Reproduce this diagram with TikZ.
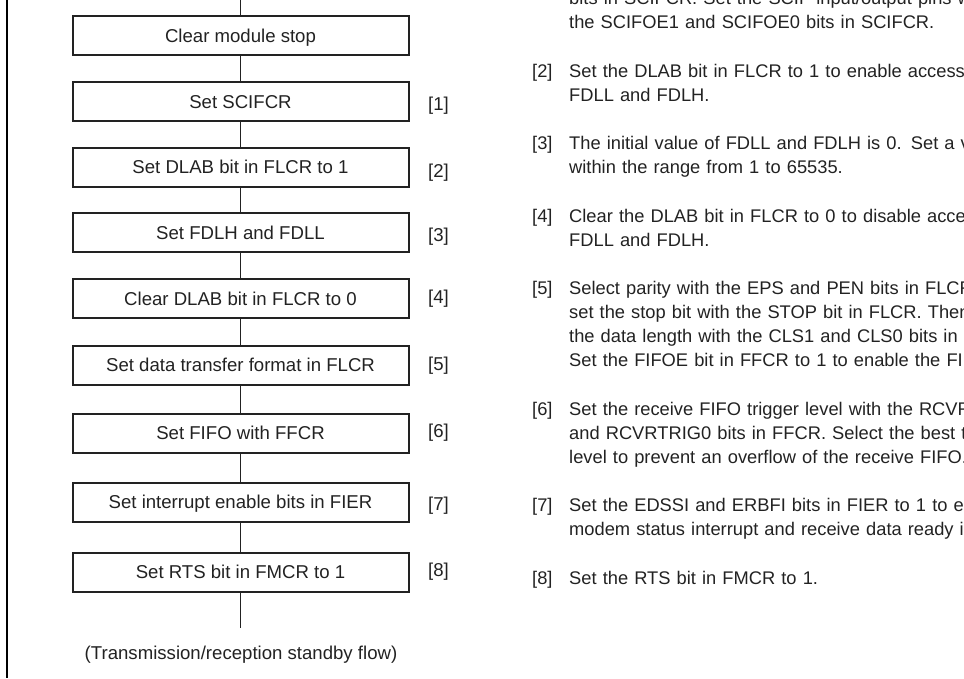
\documentclass[tikz,border=0pt]{standalone}
\usepackage{fontspec}
\setmainfont{Liberation Sans}
\definecolor{ink}{HTML}{222222}
\newcommand\diagfont{\fontsize{18.6}{24}\selectfont}
\newcommand\descfont{\fontsize{18.3}{24}\selectfont}
\begin{document}
\begin{tikzpicture}[x=1pt,y=-1pt,
  stepbox/.style={draw=ink, line width=2pt, minimum width=336pt, minimum height=39pt,
    inner sep=0pt, text height=13.4pt, text depth=0pt, font=\diagfont, text=ink},
  conn/.style={draw=ink, line width=1pt},
  steplbl/.style={anchor=base west, inner sep=0pt, font=\diagfont, text=ink},
  desclbl/.style={anchor=base west, inner sep=0pt, font=\descfont, text=ink},
  desc/.style={anchor=north west, inner sep=0pt, align=left, text width=620pt,
    font=\descfont, text=ink},
  endtext/.style={anchor=base, inner sep=0pt, font=\diagfont, text=ink}]
\useasboundingbox (0,0) rectangle (964,678);
\clip (0,0) rectangle (964,678);
\draw[black, line width=2pt] (6.5,0) -- (6.5,678);

% flow boxes
\coordinate (top) at (240.5,0);
\node[stepbox] (b0) at (240.5,35.5) {Clear module stop};
\node[stepbox] (b1) at (240.5,101.5) {Set SCIFCR};
\node[stepbox] (b2) at (240.5,167) {Set DLAB bit in FLCR to 1};
\node[stepbox] (b3) at (240.5,232.5) {Set FDLH and FDLL};
\node[stepbox] (b4) at (240.5,298.5) {Clear DLAB bit in FLCR to 0};
\node[stepbox] (b5) at (240.5,365) {Set data transfer format in FLCR};
\node[stepbox] (b6) at (240.5,433) {Set FIFO with FFCR};
\node[stepbox] (b7) at (240.5,502) {Set interrupt enable bits in FIER};
\node[stepbox] (b8) at (240.5,572) {Set RTS bit in FMCR to 1};
\coordinate (bot) at (240.5,628);
\node[endtext] (endt) at (241,659) {(Transmission/reception standby flow)};

\draw[conn] (top) -- (b0.north);
\draw[conn] (b0.south) -- (b1.north);
\draw[conn] (b1.south) -- (b2.north);
\draw[conn] (b2.south) -- (b3.north);
\draw[conn] (b3.south) -- (b4.north);
\draw[conn] (b4.south) -- (b5.north);
\draw[conn] (b5.south) -- (b6.north);
\draw[conn] (b6.south) -- (b7.north);
\draw[conn] (b7.south) -- (b8.north);
\draw[conn] (b8.south) -- (bot);

% step labels
\node[steplbl] (l1) at (428,110.5) {[1]};
\node[steplbl] (l2) at (428,177.5) {[2]};
\node[steplbl] (l3) at (428,241.5) {[3]};
\node[steplbl] (l4) at (428,303.5) {[4]};
\node[steplbl] (l5) at (428,370.5) {[5]};
\node[steplbl] (l6) at (428,437.5) {[6]};
\node[steplbl] (l7) at (428,510.5) {[7]};
\node[steplbl] (l8) at (428,576.5) {[8]};

% descriptions
\node[desc] (d1) at (569,-12.8) {\strut bits in SCIFCR. Set the SCIF input/output pins with\\
  the SCIFOE1 and SCIFOE0 bits in SCIFCR.};
\node[desclbl] (n2) at (532,77.5) {[2]};
\node[desc] (d2) at (569,60.7) {\strut Set the DLAB bit in FLCR to 1 to enable access to\\
  FDLL and FDLH.};
\node[desclbl] (n3) at (532,149) {[3]};
\node[desc] (d3) at (569,132.2) {\strut The initial value of FDLL and FDLH is 0. Set a value\\
  within the range from 1 to 65535.};
\node[desclbl] (n4) at (532,222.5) {[4]};
\node[desc] (d4) at (569,205.7) {\strut Clear the DLAB bit in FLCR to 0 to disable access to\\
  FDLL and FDLH.};
\node[desclbl] (n5) at (532,294) {[5]};
\node[desc] (d5) at (569,277.2) {\strut Select parity with the EPS and PEN bits in FLCR, and\\
  set the stop bit with the STOP bit in FLCR. Then, select\\
  the data length with the CLS1 and CLS0 bits in FLCR.\\
  Set the FIFOE bit in FFCR to 1 to enable the FIFO.};
\node[desclbl] (n6) at (532,415.5) {[6]};
\node[desc] (d6) at (569,398.7) {\strut Set the receive FIFO trigger level with the RCVRTRIG1\\
  and RCVRTRIG0 bits in FFCR. Select the best trigger\\
  level to prevent an overflow of the receive FIFO.};
\node[desclbl] (n7) at (532,511.5) {[7]};
\node[desc] (d7) at (569,494.7) {\strut Set the EDSSI and ERBFI bits in FIER to 1 to enable\\
  modem status interrupt and receive data ready interrupt.};
\node[desclbl] (n8) at (532,584) {[8]};
\node[desc] (d8) at (569,567.2) {\strut Set the RTS bit in FMCR to 1.};
\end{tikzpicture}
\end{document}
